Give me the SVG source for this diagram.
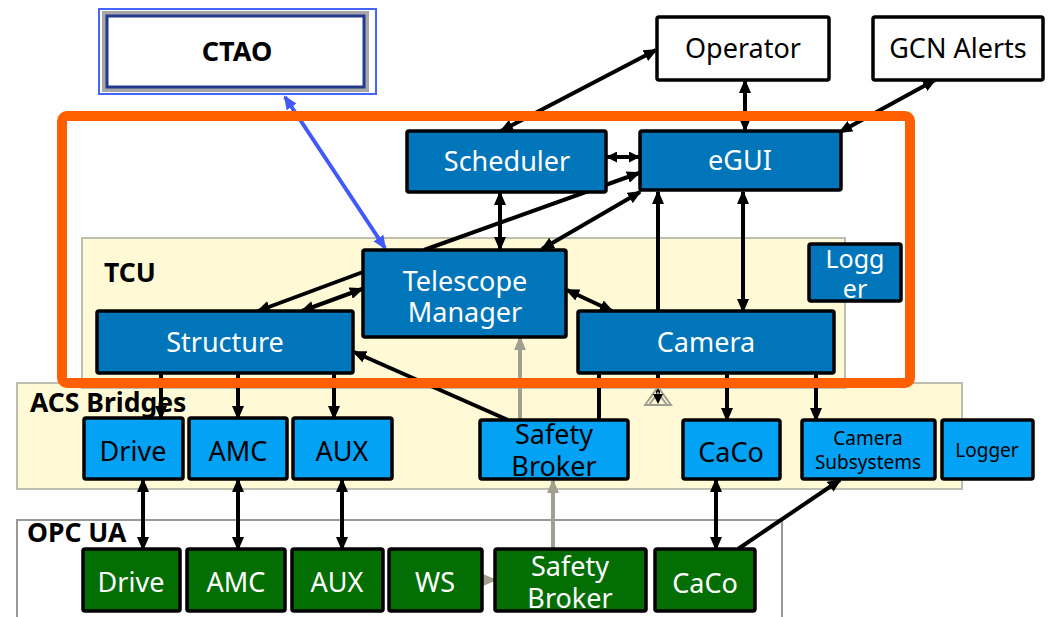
<svg xmlns="http://www.w3.org/2000/svg" width="1049" height="617" viewBox="0 0 1049 617">
<defs>
<style>
.t{font-family:"Noto Sans","Open Sans","DejaVu Sans",sans-serif;text-anchor:middle;font-size:27px}
.sm{font-size:19px}
.b{font-family:"Noto Sans","Open Sans","DejaVu Sans",sans-serif;font-weight:bold;font-size:26.5px}
.nb{stroke:#000;stroke-width:3.5;stroke-linejoin:round}
.tcu{fill:#0075B9}
.acs{fill:#03A2F5}
.opc{fill:#036E03}
.wt{fill:#fff}
.bt{fill:#000}
.c{fill:none;stroke:#000;stroke-width:4}
.g{fill:none;stroke:#A09F90;stroke-width:4}
.bl{fill:none;stroke:#4359F7;stroke-width:4}
</style>
<marker id="a" viewBox="0 0 14 12" refX="12" refY="6" markerWidth="14" markerHeight="12" markerUnits="userSpaceOnUse" orient="auto-start-reverse"><path d="M0,0 L14,6 L0,12 z" fill="#000"/></marker>
<marker id="m" viewBox="0 0 11 11" refX="10" refY="5.5" markerWidth="11" markerHeight="11" markerUnits="userSpaceOnUse" orient="auto-start-reverse"><path d="M0,0 L11,5.5 L0,11 z" fill="#000"/></marker>
<marker id="s" viewBox="0 0 8 7" refX="7" refY="3.5" markerWidth="8" markerHeight="7" markerUnits="userSpaceOnUse" orient="auto-start-reverse"><path d="M0,0 L8,3.5 L0,7 z" fill="#000"/></marker>
<marker id="ag" viewBox="0 0 14 12" refX="12" refY="6" markerWidth="14" markerHeight="12" markerUnits="userSpaceOnUse" orient="auto-start-reverse"><path d="M0,0 L14,6 L0,12 z" fill="#A09F90"/></marker>
<marker id="ab" viewBox="0 0 14 12" refX="12" refY="6" markerWidth="14" markerHeight="12" markerUnits="userSpaceOnUse" orient="auto-start-reverse"><path d="M0,0 L14,6 L0,12 z" fill="#4359F7"/></marker>
</defs>
<rect width="1049" height="617" fill="#fff"/>
<g id="areas">
<rect x="17" y="520" width="765" height="110" fill="#fff" stroke="#999" stroke-width="2"/>
<rect x="17" y="383" width="945" height="106" fill="#FFF9D6" stroke="#BDBDB0" stroke-width="2"/>
<rect x="82" y="238" width="763" height="150" fill="#FFF9D6" stroke="#BDBDB0" stroke-width="2"/>
<text class="b" x="104" y="282">TCU</text>
<text class="b" x="30" y="412">ACS Bridges</text>
<text class="b" x="27" y="542">OPC UA</text>
</g>
<g id="connectors">
<line class="bl" x1="285" y1="97" x2="385" y2="248" marker-start="url(#ab)" marker-end="url(#ab)"/>
<line class="c" x1="501" y1="131" x2="656" y2="50" marker-start="url(#a)" marker-end="url(#a)"/>
<line class="c" x1="745" y1="81" x2="745" y2="130" marker-start="url(#a)" marker-end="url(#a)"/>
<line class="c" x1="935" y1="80" x2="840" y2="132" marker-start="url(#a)" marker-end="url(#a)"/>
<line class="c" x1="607" y1="157" x2="639" y2="157" marker-start="url(#m)" marker-end="url(#m)"/>
<line class="c" x1="424" y1="250" x2="639" y2="173" marker-end="url(#a)"/>
<line class="c" x1="640" y1="192" x2="542" y2="249" marker-start="url(#a)" marker-end="url(#a)"/>
<line class="c" x1="500" y1="193" x2="500" y2="249" marker-start="url(#a)" marker-end="url(#a)"/>
<line class="c" x1="658" y1="311" x2="658" y2="192" marker-end="url(#a)"/>
<line class="c" x1="743" y1="192" x2="743" y2="311" marker-start="url(#a)" marker-end="url(#a)"/>
<line class="c" x1="567" y1="290" x2="612" y2="311" marker-start="url(#a)" marker-end="url(#a)"/>
<line class="c" x1="363" y1="272" x2="258" y2="311" marker-end="url(#a)"/>
<line class="c" x1="362" y1="289" x2="302" y2="311" marker-start="url(#a)" marker-end="url(#a)"/>
<line class="c" x1="508" y1="420" x2="354" y2="352" marker-end="url(#a)"/>
<line class="g" x1="520" y1="420" x2="520" y2="338" marker-end="url(#ag)"/>
<line class="c" x1="161" y1="374" x2="161" y2="418" marker-start="url(#s)" marker-end="url(#a)"/>
<line class="c" x1="238" y1="374" x2="238" y2="418" marker-start="url(#s)" marker-end="url(#a)"/>
<line class="c" x1="334" y1="374" x2="334" y2="418" marker-start="url(#s)" marker-end="url(#a)"/>
<line class="c" x1="599" y1="374" x2="599" y2="420" marker-start="url(#s)"/>
<line class="c" x1="658" y1="374" x2="658" y2="396" marker-start="url(#s)"/>
<path d="M645,405 L658,387 L671,405 Z M649,405 L658,393 L667,405 Z" fill="none" stroke="#A09F90" stroke-width="2"/>
<path d="M653,394 L663,394 L658,404 Z" fill="#000"/>
<line class="c" x1="727" y1="374" x2="727" y2="420" marker-start="url(#s)" marker-end="url(#a)"/>
<line class="c" x1="816" y1="374" x2="816" y2="420" marker-start="url(#s)" marker-end="url(#a)"/>
<line class="c" x1="143" y1="480" x2="143" y2="549" marker-start="url(#a)" marker-end="url(#a)"/>
<line class="c" x1="238" y1="480" x2="238" y2="549" marker-start="url(#a)" marker-end="url(#a)"/>
<line class="c" x1="342" y1="480" x2="342" y2="549" marker-start="url(#a)" marker-end="url(#a)"/>
<line class="c" x1="716" y1="480" x2="716" y2="549" marker-start="url(#a)" marker-end="url(#a)"/>
<line class="c" x1="738" y1="549" x2="840" y2="480" marker-end="url(#a)"/>
<line class="g" x1="553" y1="549" x2="553" y2="481" marker-end="url(#ag)"/>
<line class="g" x1="482" y1="580" x2="495" y2="580" marker-end="url(#ag)"/>
</g>
<g id="frame">
<rect x="62" y="116" width="848" height="267" rx="5" fill="none" stroke="#FF5F00" stroke-width="10"/>
</g>
<g id="ctao">
<rect x="99" y="9" width="277" height="85" fill="#fff" stroke="#4466FF" stroke-width="2"/>
<rect x="105" y="14" width="261" height="75" fill="#fff" stroke="#8a8a8a" stroke-width="6" opacity="0.75"/>
<rect x="107" y="16" width="257" height="71" fill="#fff" stroke="#243a8e" stroke-width="3"/>
<text class="b" x="237" y="61" text-anchor="middle" style="font-size:27px">CTAO</text>
</g>
<g id="operator"><rect class="nb" x="657" y="17" width="172" height="63" rx="2" fill="#fff"/><text class="t bt" x="743" y="58">Operator</text></g>
<g id="gcn"><rect class="nb" x="873" y="17" width="170" height="63" rx="2" fill="#fff"/><text class="t bt" x="958" y="58">GCN Alerts</text></g>
<g id="scheduler"><rect class="nb tcu" x="407" y="131" width="199" height="61" rx="2"/><text class="t wt" x="507" y="171">Scheduler</text></g>
<g id="egui"><rect class="nb tcu" x="640" y="131" width="201" height="59" rx="2"/><text class="t wt" x="740" y="170">eGUI</text></g>
<g id="telescope-manager"><rect class="nb tcu" x="363" y="250" width="203" height="87" rx="2"/><text class="t wt"><tspan x="465" y="291">Telescope</tspan><tspan x="465" y="322">Manager</tspan></text></g>
<g id="structure"><rect class="nb tcu" x="97" y="311" width="256" height="62" rx="2"/><text class="t wt" x="225" y="352">Structure</text></g>
<g id="camera"><rect class="nb tcu" x="578" y="311" width="256" height="62" rx="2"/><text class="t wt" x="706" y="352">Camera</text></g>
<g id="logger-tcu"><rect class="nb tcu" x="809" y="244" width="92" height="57" rx="2"/><text class="t wt" style="font-size:25px"><tspan x="855" y="268">Logg</tspan><tspan x="855" y="298">er</tspan></text></g>
<g id="acs-drive"><rect class="nb acs" x="84" y="418" width="99" height="61" rx="2"/><text class="t bt" x="133" y="461">Drive</text></g>
<g id="acs-amc"><rect class="nb acs" x="189" y="418" width="98" height="61" rx="2"/><text class="t bt" x="238" y="461">AMC</text></g>
<g id="acs-aux"><rect class="nb acs" x="293" y="418" width="99" height="61" rx="2"/><text class="t bt" x="342" y="461">AUX</text></g>
<g id="acs-safety-broker"><rect class="nb acs" x="480" y="420" width="148" height="59" rx="2"/><text class="t bt"><tspan x="554" y="444">Safety</tspan><tspan x="554" y="476">Broker</tspan></text></g>
<g id="acs-caco"><rect class="nb acs" x="683" y="420" width="97" height="59" rx="2"/><text class="t bt" x="731" y="462">CaCo</text></g>
<g id="acs-camera-subsystems"><rect class="nb acs" x="802" y="420" width="133" height="59" rx="2"/><text class="t sm bt"><tspan x="868" y="445">Camera</tspan><tspan x="868" y="469">Subsystems</tspan></text></g>
<g id="acs-logger"><rect class="nb acs" x="942" y="420" width="91" height="59" rx="2"/><text class="t sm bt" x="987" y="457">Logger</text></g>
<g id="opc-drive"><rect class="nb opc" x="83" y="549" width="97" height="62" rx="2"/><text class="t wt" x="131" y="592">Drive</text></g>
<g id="opc-amc"><rect class="nb opc" x="187" y="549" width="98" height="62" rx="2"/><text class="t wt" x="236" y="592">AMC</text></g>
<g id="opc-aux"><rect class="nb opc" x="292" y="549" width="91" height="62" rx="2"/><text class="t wt" x="337" y="592">AUX</text></g>
<g id="opc-ws"><rect class="nb opc" x="389" y="549" width="93" height="62" rx="2"/><text class="t wt" x="435" y="592">WS</text></g>
<g id="opc-safety-broker"><rect class="nb opc" x="495" y="549" width="151" height="62" rx="2"/><text class="t wt"><tspan x="570" y="576">Safety</tspan><tspan x="570" y="608">Broker</tspan></text></g>
<g id="opc-caco"><rect class="nb opc" x="655" y="549" width="100" height="62" rx="2"/><text class="t wt" x="705" y="593">CaCo</text></g>
</svg>
